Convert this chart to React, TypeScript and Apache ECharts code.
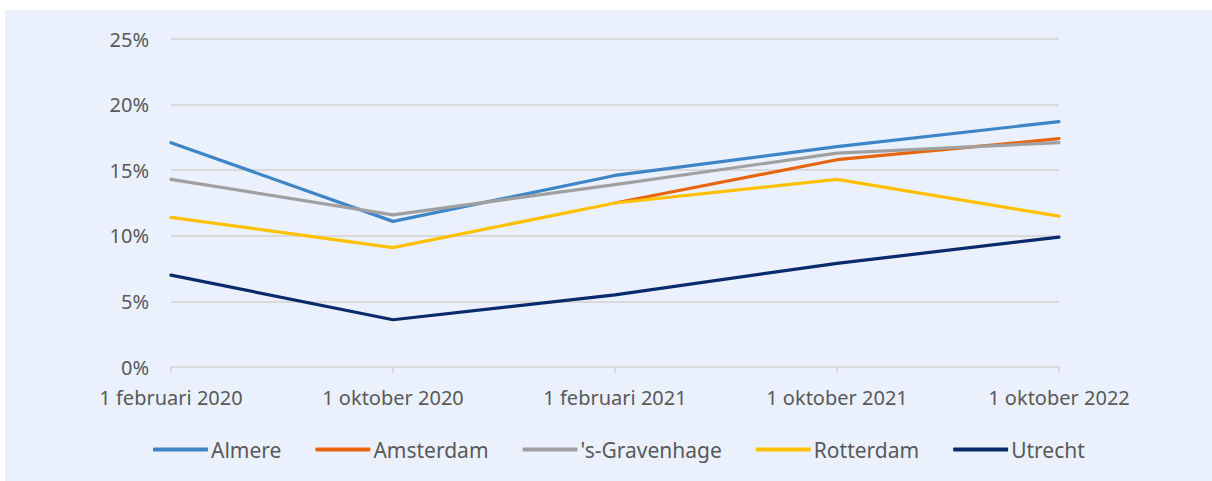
import React, { useEffect, useRef } from "react";
import * as echarts from "echarts";

const categories = ["1 februari 2020", "1 oktober 2020", "1 februari 2021", "1 oktober 2021", "1 oktober 2022"];
const almere = [17.1, 11.1, 14.6, 16.8, 18.7];
const amsterdam = [null, null, 12.5, 15.8, 17.4];
const gravenhage = [14.3, 11.6, 13.9, 16.3, 17.1];
const rotterdam = [11.4, 9.1, 12.5, 14.3, 11.5];
const utrecht = [7.0, 3.6, 5.5, 7.9, 9.9];

const seriesDefs = [
  { name: "Almere", data: almere, color: "#3D85C6" },
  { name: "Amsterdam", data: amsterdam, color: "#E8650F" },
  { name: "'s-Gravenhage", data: gravenhage, color: "#A0A0A0" },
  { name: "Rotterdam", data: rotterdam, color: "#FFC000" },
  { name: "Utrecht", data: utrecht, color: "#0A2A6B" },
];

const FONT = "'Noto Sans', sans-serif";

export default function App() {
  const ref = useRef<HTMLDivElement>(null);
  useEffect(() => {
    document.body.style.margin = "0";
    const chart = echarts.init(ref.current!, null, { renderer: "svg" });
    chart.setOption({
      animation: false,
      backgroundColor: "#ffffff",
      graphic: [
        {
          type: "rect",
          z: -10,
          silent: true,
          shape: { x: 5, y: 10, width: 1207, height: 471 },
          style: { fill: "#EAF1FD" },
        },
      ],
      grid: { left: 171, right: 153, top: 39, bottom: 114, containLabel: false },
      xAxis: {
        type: "category",
        data: categories,
        boundaryGap: false,
        axisLine: { lineStyle: { color: "#D9D9D9", width: 2 } },
        axisTick: { show: true, length: 6, lineStyle: { color: "#D9D9D9", width: 2 } },
        axisLabel: { color: "#595959", fontSize: 20, fontFamily: FONT, margin: 20 },
      },
      yAxis: {
        type: "value",
        min: 0,
        max: 25,
        interval: 5,
        axisLine: { show: false },
        axisTick: { show: false },
        splitLine: { lineStyle: { color: "#D9D9D9", width: 2 } },
        axisLabel: { color: "#595959", fontSize: 20, fontFamily: FONT, margin: 22, formatter: "{value}%" },
      },
      legend: {
        top: 434,
        left: 148,
        itemWidth: 55,
        itemHeight: 4,
        itemGap: 34,
        icon: "roundRect",
        textStyle: { color: "#595959", fontSize: 21, fontFamily: FONT, padding: [0, 0, 0, -2] },
        data: seriesDefs.map((s) => s.name),
      },
      series: seriesDefs.map((s) => ({
        name: s.name,
        type: "line",
        data: s.data,
        showSymbol: false,
        symbol: "none",
        connectNulls: false,
        lineStyle: { color: s.color, width: 3.2, cap: "round", join: "round" },
        itemStyle: { color: s.color },
      })),
    });
    return () => chart.dispose();
  }, []);
  return <div ref={ref} style={{ width: 1212, height: 481 }} />;
}
